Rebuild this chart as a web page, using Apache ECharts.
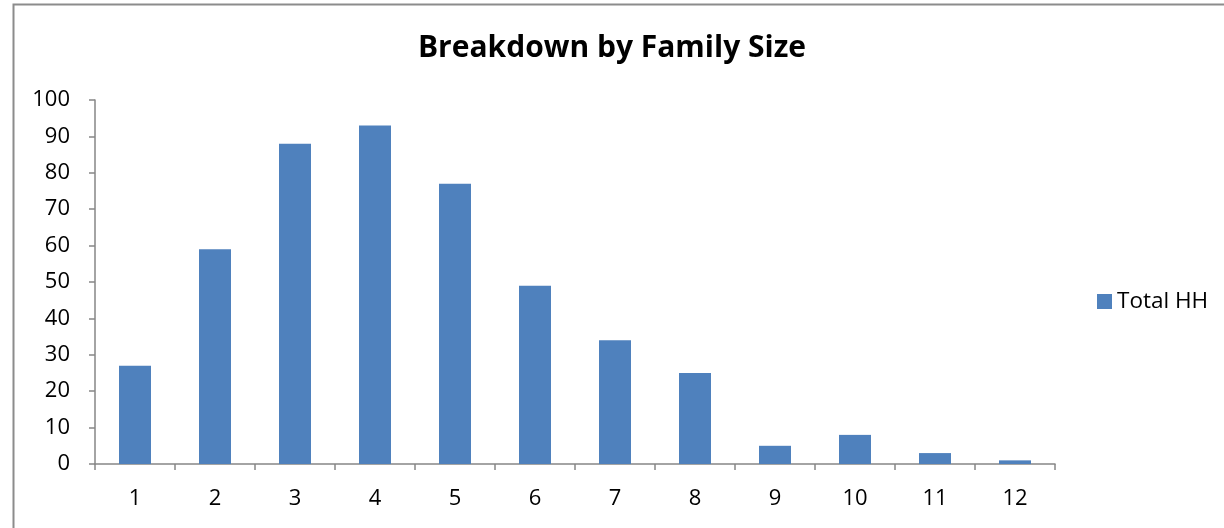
<!DOCTYPE html>
<html><head><meta charset="utf-8">
<script src="https://cdn.jsdelivr.net/npm/echarts@6/dist/echarts.min.js"></script>
<style>html,body{margin:0;padding:0;background:#fff}#c{width:1224px;height:528px}</style>
</head><body><div id="c"></div>
<script>
const categories = ['1','2','3','4','5','6','7','8','9','10','11','12'];
const totalHH = [27, 59, 88, 93, 77, 49, 34, 25, 5, 8, 3, 1];
const seriesName = 'Total HH';
const titleText = 'Breakdown by Family Size';

const chart = echarts.init(document.getElementById('c'));
const font = '"Open Sans", Lato, sans-serif';
chart.setOption({
  animation: false,
  graphic: [{type:'rect', shape:{x:13.5,y:4.5,width:1260,height:600}, style:{fill:'none', stroke:'#8c8c8c', lineWidth:2}, silent:true}],
  title: {text: titleText, left: 'center', top: 28, textStyle:{fontFamily:font, fontWeight:'bold', fontSize:30, color:'#000'}},
  legend: {left: 1092, top: 285, itemWidth:15, itemHeight:15, data:[{name:seriesName, icon:'rect'}], textStyle:{fontFamily:font, fontSize:22.5, color:'#000'}},
  grid: {left: 95, right: 169, top: 100, bottom: 64, containLabel:false},
  xAxis: {type:'category', data: categories, boundaryGap:true,
    axisLine:{lineStyle:{color:'#868686', width:1.5}},
    axisTick:{show:true, alignWithLabel:false, length:6, lineStyle:{color:'#868686', width:1.5}},
    axisLabel:{fontFamily:font, fontSize:22, color:'#000', margin:24}},
  yAxis: {type:'value', min:0, max:100, interval:10,
    axisLine:{show:true, lineStyle:{color:'#868686', width:1.5}},
    axisTick:{show:true, length:6, lineStyle:{color:'#868686', width:1.5}},
    splitLine:{show:false},
    axisLabel:{fontFamily:font, fontSize:22, color:'#000', margin:25, padding:[3,0,0,0]}},
  series: [{name: seriesName, type:'bar', data: totalHH, barWidth:'40%', itemStyle:{color:'#4F81BD'}}]
});
</script></body></html>
